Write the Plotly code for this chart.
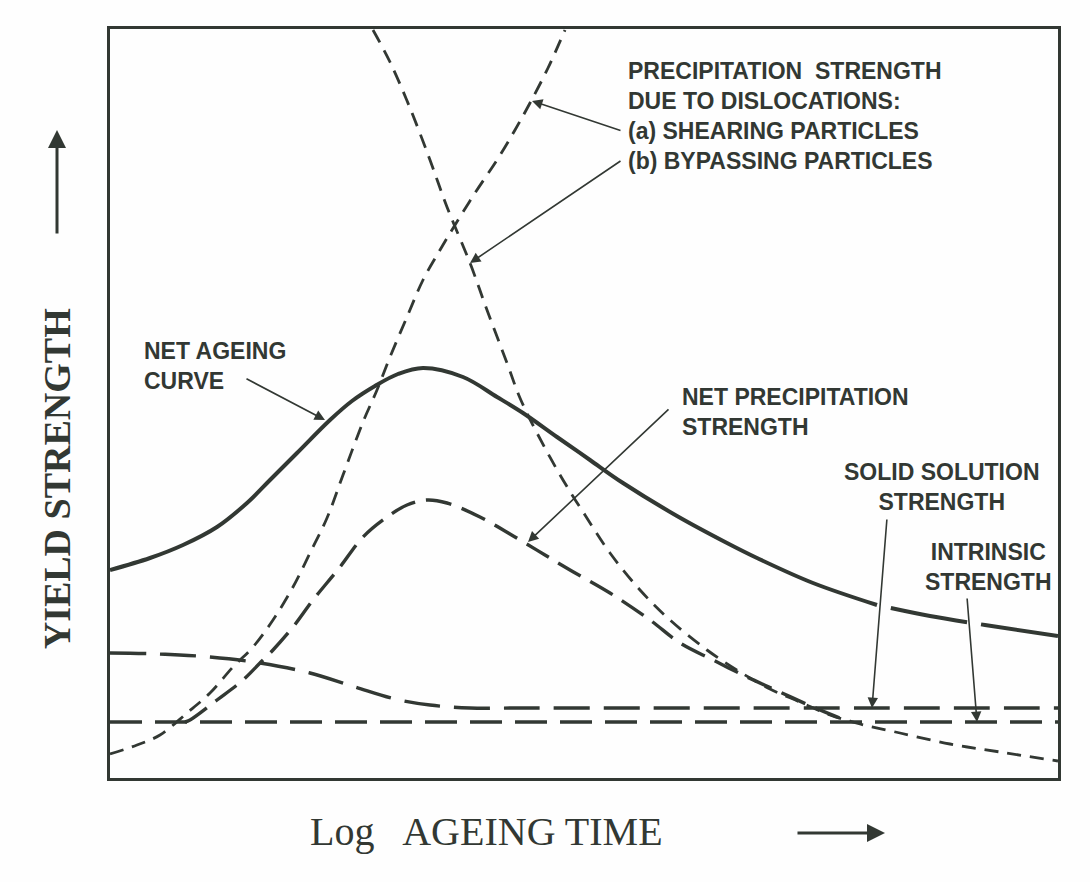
import plotly.graph_objects as go

INK = "#323833"
BG = "#fefefe"

# Arbitrary schematic units: x = log ageing time (0..948), y = yield strength (0..749)
x_max, y_max = 948, 749

shear_x = [0, 27, 50, 77, 100, 123, 143, 163, 183, 200, 217, 233, 253, 267, 280, 297, 313, 330, 345, 365, 387, 405, 420, 438, 455]
shear_y = [24, 33, 43, 65, 85, 111, 131, 158, 191, 225, 260, 303, 356, 388, 421, 461, 498, 528, 553, 585, 618, 648, 675, 710, 748]

bypass_x = [263, 280, 300, 320, 337, 360, 377, 397, 410, 427, 453, 475, 500, 530, 560, 597, 630, 660, 690, 720, 750, 790, 840, 890, 948]
bypass_y = [748, 716, 670, 618, 571, 515, 468, 415, 380, 345, 298, 263, 225, 188, 158, 128, 106, 89, 76, 63, 54, 45, 34, 26, 17]

ageing_x = [0, 40, 73, 107, 137, 160, 187, 220, 242, 265, 288, 313, 353, 387, 413, 447, 480, 513, 567, 617, 647, 703, 767, 820, 875, 948]
ageing_y = [208, 220, 233, 251, 275, 298, 325, 358, 377, 392, 404, 410, 401, 381, 365, 341, 318, 295, 262, 235, 220, 195, 173, 162, 153, 142]
ageing_dash_from = 767  # beyond this the net ageing curve is drawn dashed

netp_x = [75, 80, 107, 133, 150, 163, 183, 203, 230, 253, 277, 297, 317, 337, 370, 410, 435, 460, 500, 540, 570, 603, 637, 670, 703, 730, 740]
netp_y = [56, 58, 78, 98, 115, 128, 151, 178, 211, 241, 261, 273, 278, 275, 261, 238, 223, 208, 185, 158, 135, 118, 101, 86, 71, 60, 57]

solid_x = [0, 50, 100, 150, 200, 245, 285, 320, 360, 410, 948]
solid_y = [125, 124, 121, 115, 105, 91, 79, 73, 70, 70, 70]

intr_x = [0, 948]
intr_y = [56, 56]

fig = go.Figure()

def line(x, y, width, dash):
    fig.add_trace(go.Scatter(x=x, y=y, mode="lines",
                             line=dict(color=INK, width=width, dash=dash, shape="spline", smoothing=1.0),
                             hoverinfo="skip", showlegend=False))

line(shear_x, shear_y, 2.8, "14px,9px")
line(bypass_x, bypass_y, 2.8, "14px,9px")
line(netp_x, netp_y, 3.4, "26px,11px")
line(solid_x, solid_y, 3.4, "36px,14px")
line(intr_x, intr_y, 3.4, "32px,13px")

i_cut = ageing_x.index(ageing_dash_from)
line(ageing_x[:i_cut + 1], ageing_y[:i_cut + 1], 4, "solid")
line(ageing_x[i_cut:], ageing_y[i_cut:], 4, "0px,14px,78px,0px")

LBL = dict(family="Liberation Sans, Arial, sans-serif", size=23, color=INK, weight="bold")

annotations = []

def label(text, x, y, xanchor="left", align="left"):
    annotations.append(dict(text=text, x=x, y=y, xref="x", yref="y", xanchor=xanchor, yanchor="top",
                            align=align, showarrow=False, font=LBL))

def pointer(x_tail, y_tail, x_head, y_head):
    annotations.append(dict(text="", x=x_head, y=y_head, ax=x_tail, ay=y_tail, xref="x", yref="y",
                            axref="x", ayref="y", showarrow=True, arrowhead=2, arrowsize=1.3,
                            arrowwidth=1.6, arrowcolor=INK, standoff=0))

label("PRECIPITATION  STRENGTH<br>DUE TO DISLOCATIONS:<br>(a) SHEARING PARTICLES<br>(b) BYPASSING PARTICLES", 516, 722)
label("NET AGEING<br>CURVE", 32, 442)
label("NET PRECIPITATION<br>STRENGTH", 570, 396)
label("SOLID SOLUTION<br>STRENGTH", 832, 321, xanchor="center", align="center")
label("INTRINSIC<br>STRENGTH", 878, 241, xanchor="center", align="center")

pointer(512, 647, 422, 677)
pointer(512, 618, 360, 515)
pointer(135, 400, 215, 358)
pointer(560, 370, 418, 236)
pointer(777, 260, 762, 70)
pointer(857, 181, 867, 56)

TITLE = dict(family="Liberation Serif, Times New Roman, serif", color=INK)

annotations.append(dict(text="Log   AGEING TIME", x=0.397, y=-0.072, xref="paper", yref="paper",
                        xanchor="center", yanchor="middle", showarrow=False,
                        font=dict(**TITLE, size=40)))
annotations.append(dict(text="YIELD STRENGTH", x=-0.056, y=0.40, xref="paper", yref="paper",
                        xanchor="center", yanchor="middle", textangle=-90, showarrow=False,
                        font=dict(**TITLE, size=38, weight="bold")))
# axis direction arrows
annotations.append(dict(text="", x=0.8175, y=-0.0734, xref="paper", yref="paper", ax=-89, ay=0,
                        showarrow=True, arrowhead=2, arrowsize=1.2, arrowwidth=3, arrowcolor=INK, standoff=0))
annotations.append(dict(text="", x=-0.0559, y=0.865, xref="paper", yref="paper", ax=0, ay=105,
                        showarrow=True, arrowhead=2, arrowsize=1.2, arrowwidth=3, arrowcolor=INK, standoff=0))

axis = dict(showgrid=False, zeroline=False, showticklabels=False, ticks="",
            showline=True, mirror=True, linewidth=3, linecolor=INK, fixedrange=True)

fig.update_layout(
    width=1090, height=882,
    margin=dict(l=110, r=32, t=29, b=104),
    paper_bgcolor=BG, plot_bgcolor=BG,
    xaxis=dict(range=[0, x_max], **axis),
    yaxis=dict(range=[0, y_max], **axis),
    annotations=annotations,
    showlegend=False,
)

fig.write_html("out.html", include_plotlyjs=True, config={"displayModeBar": False})
